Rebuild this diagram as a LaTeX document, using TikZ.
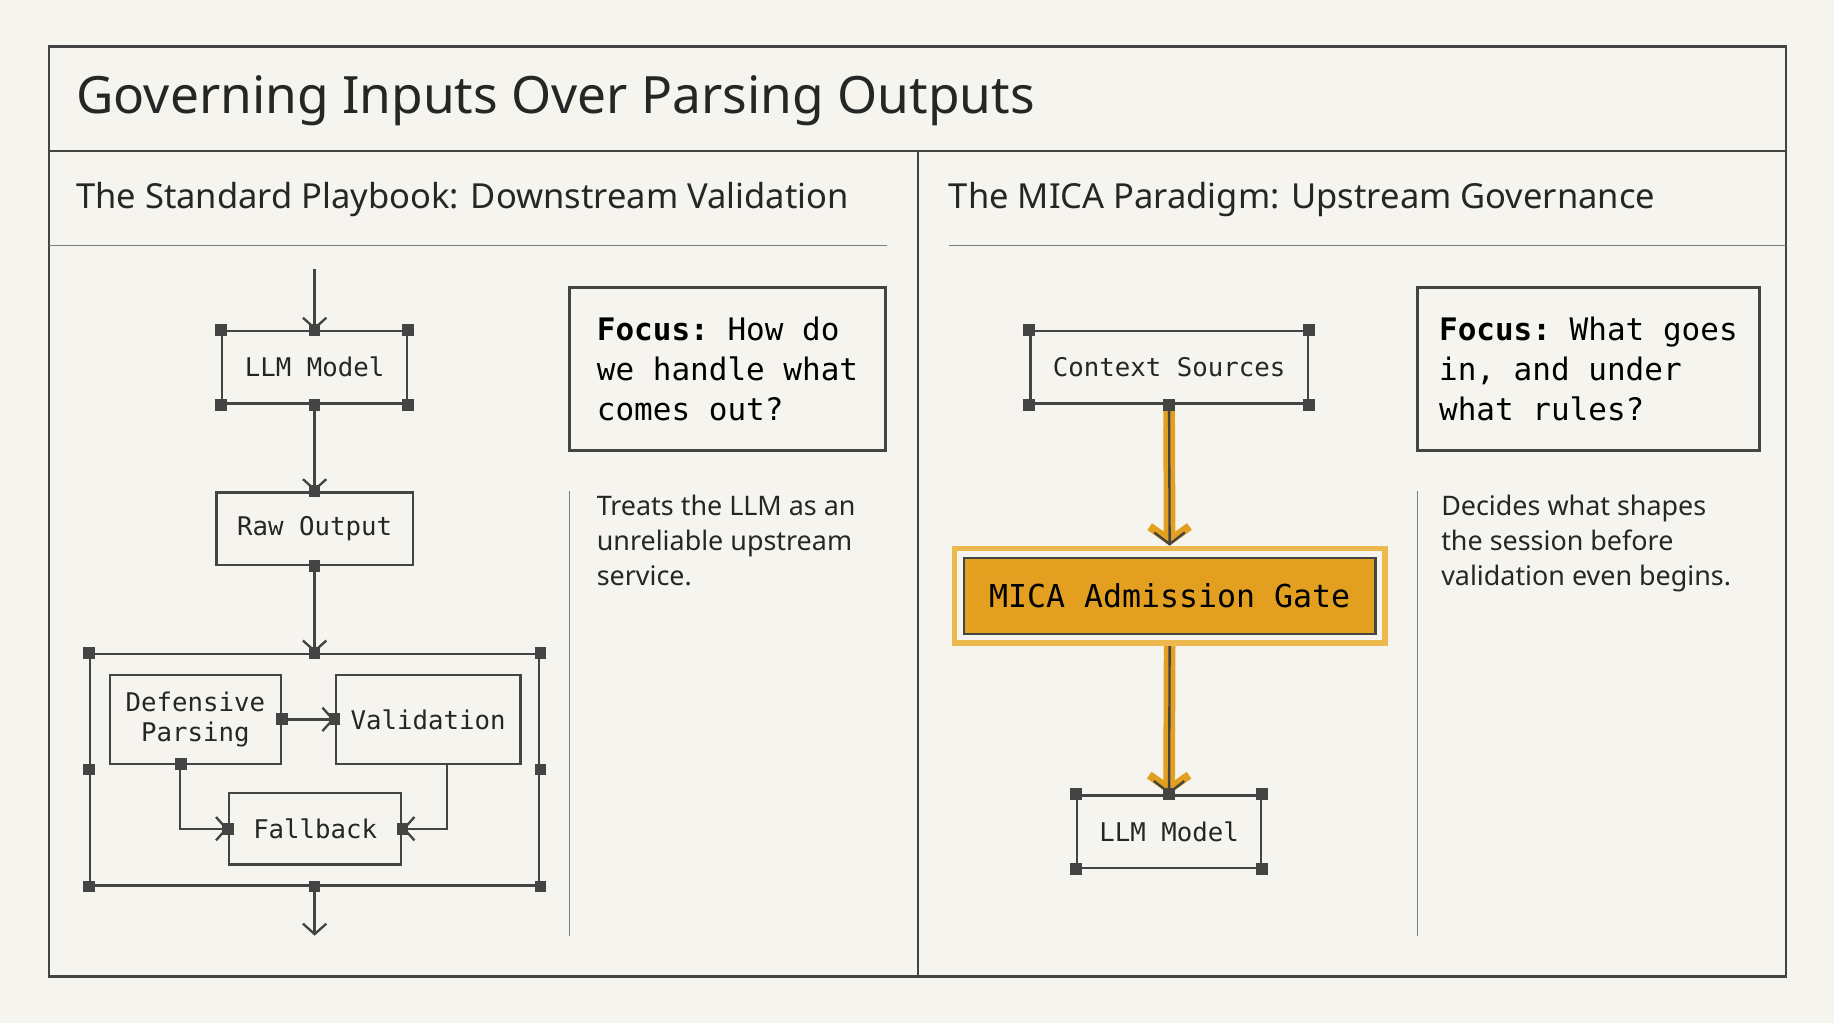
\documentclass[tikz,border=0pt]{standalone}
\usepackage{fontspec}
\setmainfont{Noto Sans}
\setmonofont{DejaVu Sans Mono}
\usetikzlibrary{arrows.meta}
\definecolor{bg}{HTML}{F5F4EF}
\definecolor{ink}{HTML}{444444}
\definecolor{gold}{HTML}{E3A020}
\definecolor{goldl}{HTML}{EDB94E}
\begin{document}
\begin{tikzpicture}[x=1pt,y=-1pt,
 box/.style={draw=ink,line width=2pt,fill=bg,font=\ttfamily\fontsize{22}{26}\selectfont,text=black!85,align=center,inner sep=0},
 sq/.style={fill=ink,minimum size=10pt,inner sep=0},
 arr/.style={draw=ink,line width=2pt,-{Straight Barb[length=9pt,width=20pt,line width=2pt]}},
 focus/.style={draw=ink,line width=2.8pt,align=left,font=\ttfamily\fontsize{26.5}{34}\selectfont,inner sep=0,text=black},
 body/.style={anchor=north west,align=left,font=\fontsize{23}{30}\selectfont,text=black!85,inner sep=0}]
\fill[bg] (0,0) rectangle (1568,875);
\useasboundingbox (0,0) rectangle (1568,875);
\draw[ink,line width=2.2pt] (42,40) rectangle (1527,835);
\draw[ink,line width=2.2pt] (42,129) -- (1527,129);
\draw[ink,line width=2.2pt] (785,129) -- (785,835);
\node[anchor=west,font=\fontsize{44}{50}\selectfont,text=black!85,inner sep=0] (title) at (65,86) {Governing Inputs Over Parsing Outputs};
\node[anchor=west,font=\fontsize{29.5}{34}\selectfont,text=black!85,inner sep=0] (h1) at (65,171) {The Standard Playbook: Downstream Validation};
\node[anchor=west,font=\fontsize{29.5}{34}\selectfont,text=black!85,inner sep=0] (h2) at (811,171) {The MICA Paradigm: Upstream Governance};
\draw[ink!70,line width=1.2pt] (42,210) -- (758,210);
\draw[ink!70,line width=1.2pt] (811,210) -- (1527,210);
% left diagram
\node[box,minimum width=158pt,minimum height=62pt] (llm) at (269,314) {LLM Model};
\node[box,minimum width=168pt,minimum height=62pt] (raw) at (269,452) {Raw Output};
\node[draw=ink,line width=2pt,minimum width=384pt,minimum height=198pt,inner sep=0] (grp) at (269,658) {};
\node[box,minimum width=146pt,minimum height=76pt] (def) at (167,615) {Defensive\\Parsing};
\node[box,minimum width=158pt,minimum height=76pt] (val) at (366,615) {Validation};
\node[box,minimum width=147pt,minimum height=61pt] (fb) at (269.5,708.5) {Fallback};
\coordinate (top) at (269,230);
\coordinate (bot) at (269,800);
\draw[arr] (top) -- (llm.north);
\draw[arr] (llm.south) -- (raw.north);
\draw[arr] (raw.south) -- (grp.north);
\draw[arr] (grp.south) -- (bot);
\draw[arr] (def.east) -- (val.west);
\draw[arr] (def.south west) ++(61,0) |- (fb.west);
\draw[arr] (val.south west) ++(96,0) |- (fb.east);
\foreach \n in {llm.north west,llm.north east,llm.south west,llm.south east,llm.north,llm.south,raw.north,raw.south,grp.north west,grp.north east,grp.south west,grp.south east,grp.north,grp.south,grp.west,grp.east,def.east,val.west,fb.west,fb.east}
  \node[sq] at (\n) {};
\node[sq] at (155,653) {};
\node[focus,minimum width=270pt,minimum height=139pt] (f1) at (622,315.5) {\textbf{Focus:} How do\\we handle what\\comes out?};
\draw[ink!70,line width=1.2pt] (487,420) -- (487,800);
\node[body] (t1) at (510,423) {Treats the LLM as an\\unreliable upstream\\service.};
% right diagram
\node[box,minimum width=237pt,minimum height=62pt] (ctx) at (999.5,314) {Context Sources};
\node[draw=goldl,line width=5pt,fill=bg,minimum width=368pt,minimum height=81pt] (gout) at (1000,509.5) {};
\node[draw=ink,line width=2pt,fill=gold,minimum width=352pt,minimum height=65pt,font=\ttfamily\fontsize{27}{30}\selectfont,text=black] (gate) at (1000,509.5) {MICA Admission Gate};
\node[box,minimum width=157pt,minimum height=62pt] (llm2) at (999.5,711) {LLM Model};
\foreach \a/\b in {ctx.south/gout.north,gout.south/llm2.north}{
 \draw[gold,line width=10pt,-{Straight Barb[length=12pt,width=34pt,line width=7pt]}] (\a) -- (\b);
 \draw[ink,line width=2pt,-{Straight Barb[length=10pt,width=26pt,line width=2pt]}] (\a) -- (\b);}
\foreach \n in {ctx.north west,ctx.north east,ctx.south west,ctx.south east,ctx.south,llm2.north west,llm2.north east,llm2.south west,llm2.south east,llm2.north}
  \node[sq] at (\n) {};
\node[focus,minimum width=292pt,minimum height=139pt] (f2) at (1358,315.5) {\textbf{Focus:} What goes\\in, and under\\what rules?};
\draw[ink!70,line width=1.2pt] (1212,420) -- (1212,800);
\node[body] (t2) at (1232,423) {Decides what shapes\\the session before\\validation even begins.};
\end{tikzpicture}
\end{document}
